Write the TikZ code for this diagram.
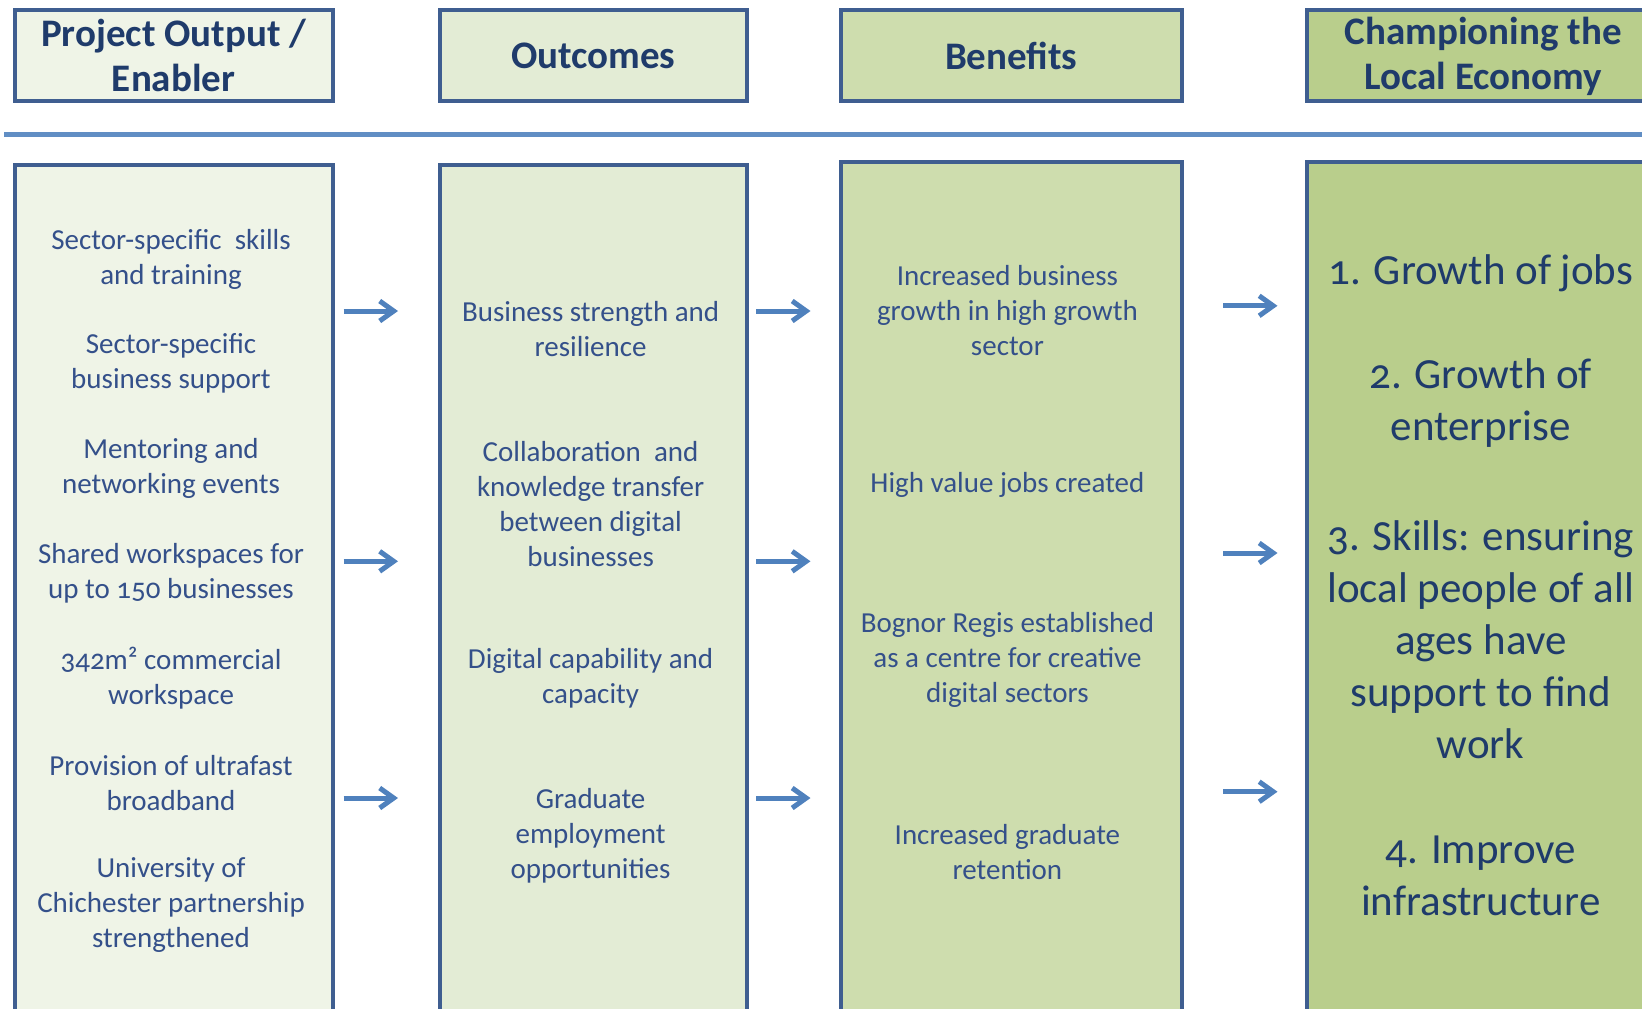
\documentclass[tikz,border=0pt]{standalone}
\usepackage{fontspec}
\setmainfont{Carlito}[Numbers=OldStyle]
\usepackage{tikz}
\usetikzlibrary{positioning,arrows.meta}

\definecolor{boxline}{HTML}{3F5E90}
\definecolor{headtext}{HTML}{1F3B6B}
\definecolor{bodytext}{HTML}{34508A}
\definecolor{flowblue}{HTML}{4F81BD}
\definecolor{fillA}{HTML}{EFF4E7}
\definecolor{fillB}{HTML}{E3ECD5}
\definecolor{fillC}{HTML}{CEDDAE}
\definecolor{fillD}{HTML}{B9CE8C}

\tikzset{
    colbox/.style={draw=boxline, line width=4pt, anchor=north west, inner sep=0pt},
    headtxt/.style={text=headtext, font=\fontsize{39}{45}\selectfont\bfseries, align=center},
    itemtxt/.style={text=bodytext, font=\fontsize{29}{35}\selectfont, align=center},
    goaltxt/.style={text=headtext, font=\fontsize{43}{52}\selectfont, align=center},
    flow/.style={draw=flowblue, line width=5pt, -{Straight Barb[length=14pt,width=20pt]}},
    rule/.style={draw=flowblue!90!white, line width=5pt}
}

\begin{document}
\begin{tikzpicture}[x=1pt, y=-1pt]
    \useasboundingbox (0,0) rectangle (1642,1009);
    \clip (0,0) rectangle (1642,1009);

    % headings
    \node[colbox, headtxt, fill=fillA, minimum width=318pt, minimum height=91pt] at (12.6,8.4) (hOut) {Project Output /\\Enabler};
    \node[colbox, headtxt, fill=fillB, minimum width=307pt, minimum height=91pt] at (437.7,8.4) (hRes) {Outcomes};
    \node[colbox, headtxt, fill=fillC, minimum width=341pt, minimum height=91pt] at (838.8,8.4) (hBen) {Benefits};
    \node[colbox, headtxt, fill=fillD, minimum width=353pt, minimum height=91pt] at (1304.8,8.4) (hEco) {Championing the\\Local Economy};

    \coordinate (ruleL) at (4,134);
    \coordinate (ruleR) at (1660,134);
    \draw[rule] (ruleL) -- (ruleR);

    % columns
    \node[colbox, fill=fillA, minimum width=318pt, minimum height=880pt] at (12.6,163) (cOut) {};
    \node[colbox, fill=fillB, minimum width=307pt, minimum height=880pt] at (437.7,163) (cRes) {};
    \node[colbox, fill=fillC, minimum width=341pt, minimum height=880pt] at (838.8,160) (cBen) {};
    \node[colbox, fill=fillD, minimum width=353pt, minimum height=880pt] at (1304.8,160) (cEco) {};

    % outputs
    \node[itemtxt] at (171,259) (out1) {Sector-specific\ \ skills\\and training};
    \node[itemtxt] at (171,363.8) (out2) {Sector-specific\\business support};
    \node[itemtxt] at (171,468.5) (out3) {Mentoring and\\networking events};
    \node[itemtxt] at (171,573.3) (out4) {Shared workspaces for\\up to 150 businesses};
    \node[itemtxt] at (171,678) (out5) {342m² commercial\\workspace};
    \node[itemtxt] at (171,782.7) (out6) {Provision of ultrafast\\broadband};
    \node[itemtxt] at (171,905) (out7) {University of\\Chichester partnership\\strengthened};

    % outcomes
    \node[itemtxt] at (590.6,329.3) (res1) {Business strength and\\resilience};
    \node[itemtxt] at (590.6,503.6) (res2) {Collaboration\ \ and\\knowledge transfer\\between digital\\businesses};
    \node[itemtxt] at (590.6,678) (res3) {Digital capability and\\capacity};
    \node[itemtxt] at (590.6,835.6) (res4) {Graduate\\employment\\opportunities};

    % benefits
    \node[itemtxt] at (1007.4,310.4) (ben1) {Increased business\\growth in high growth\\sector};
    \node[itemtxt] at (1007.4,484.8) (ben2) {High value jobs created};
    \node[itemtxt] at (1007.4,659.6) (ben3) {Bognor Regis established\\as a centre for creative\\digital sectors};
    \node[itemtxt] at (1007.4,851.8) (ben4) {Increased graduate\\retention};

    % local economy
    \node[goaltxt] at (1480.7,273.3) (eco1) {1. Growth of jobs};
    \node[goaltxt] at (1480.7,403.1) (eco2) {2. Growth of\\enterprise};
    \node[goaltxt] at (1480.7,639.8) (eco3) {3. Skills: ensuring\\local people of all\\ages have\\support to find\\work};
    \node[goaltxt] at (1480.7,875.4) (eco4) {4. Improve\\infrastructure};

    \foreach \ya/\yb [count=\i] in {311/305.8, 561.3/553, 798/791.7} {
        \coordinate (oa\i) at (343.5,\ya);
        \coordinate (ob\i) at (398,\ya);
        \coordinate (ra\i) at (756,\ya);
        \coordinate (rb\i) at (810.5,\ya);
        \coordinate (ba\i) at (1223,\yb);
        \coordinate (bb\i) at (1277.5,\yb);
        \draw[flow] (oa\i) -- (ob\i);
        \draw[flow] (ra\i) -- (rb\i);
        \draw[flow] (ba\i) -- (bb\i);
    }
\end{tikzpicture}
\end{document}
